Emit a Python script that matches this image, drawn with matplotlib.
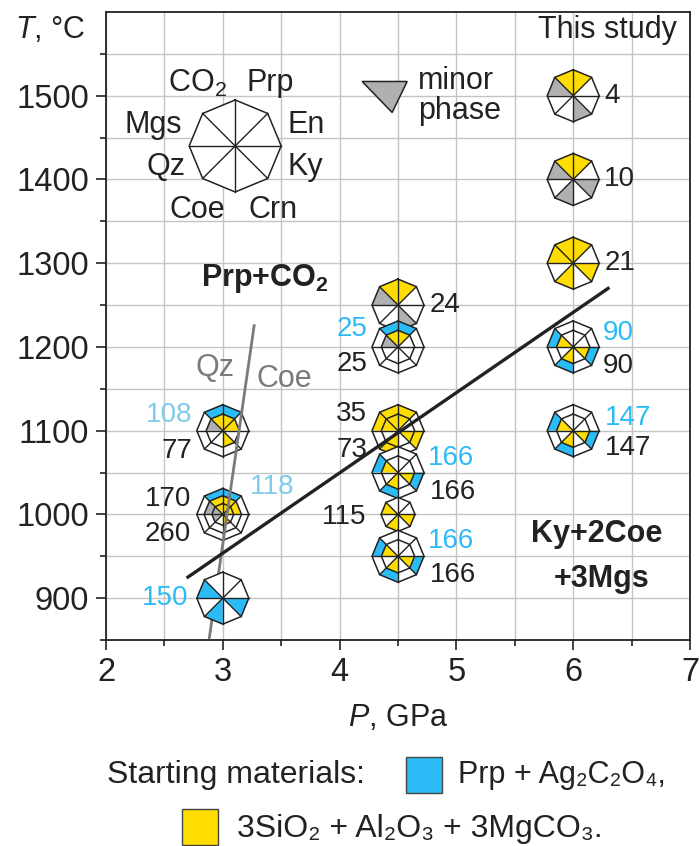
import numpy as np
import matplotlib
matplotlib.use("Agg")
import matplotlib.pyplot as plt
from matplotlib.patches import Polygon, Rectangle

plt.rcParams["font.family"] = ["Liberation Sans", "DejaVu Sans"]
plt.rcParams["mathtext.fontset"] = "custom"
plt.rcParams["mathtext.rm"] = "Liberation Sans"
plt.rcParams["mathtext.it"] = "Liberation Sans:italic"
plt.rcParams["mathtext.bf"] = "Liberation Sans:bold"

# ---------------- data ----------------
# phase sectors, clockwise starting from the top vertex of the octagon
phases = ["Prp", "En", "Ky", "Crn", "Coe", "Qz", "Mgs", "CO$_2$"]

# run conditions
run_P = [6.0, 6.0, 6.0, 4.5, 4.5, 4.5, 4.5, 4.5, 4.5, 6.0, 6.0, 3.0, 3.0, 3.0]
run_T = [1500, 1400, 1300, 1250, 1200, 1100, 1050, 1000, 950, 1200, 1100, 1100, 1000, 900]

# run durations (h) per ring, outer ring first
durations = [["4"], ["10"], ["21"], ["24"], ["25", "25"], ["35", "73"],
             ["166", "166"], ["115"], ["166", "166"], ["90", "90"],
             ["147", "147"], ["108", "77"], ["118", "170", "260"], ["150"]]

# starting material per ring: B = Prp + Ag2C2O4, Y = 3SiO2 + Al2O3 + 3MgCO3
materials = [["Y"], ["Y"], ["Y"], ["Y"], ["B", "Y"], ["Y", "Y"],
             ["B", "Y"], ["Y"], ["B", "Y"], ["B", "Y"],
             ["B", "Y"], ["B", "Y"], ["B", "Y", "Y"], ["B"]]

# phases observed per ring (order of `phases`): X = major, m = minor, . = absent
assemblages = [
    ["X..m..mX"],
    ["X.m.m.mX"],
    ["X.X.X.XX"],
    ["X..m..mX"],
    ["X......X", "X.....mX"],
    ["X.X.X.XX", "X.X.X.XX"],
    ["..X.X.X.", "..X.X.X."],
    ["..X.X.X."],
    ["..X.X.X.", "..X.X.X."],
    ["..X.X.X.", "..X.X.X."],
    ["..X.X.X.", "..X.X.X."],
    ["X......X", "XX.X..mX"],
    ["X......X", "XX....mX", "XX.X.mmX"],
    ["..X.X.X."],
]

# reaction boundaries (P in GPa, T in °C)
reaction_P = [2.69, 6.31]
reaction_T = [924, 1271]
qz_coe_P = [2.883, 3.27]
qz_coe_T = [851, 1227]

x_ticks = [2, 3, 4, 5, 6, 7]
y_ticks = [900, 1000, 1100, 1200, 1300, 1400, 1500]

# ---------------- style ----------------
W, H = 699, 846
FS = 22      # general text size
FS_TICK = 23.5
FS_LEG = 23
FS_RUN = 20  # run duration labels
BLUE = "#2bbcf7"
BLUE_LT = "#7fcbec"
YELLOW = "#ffdd00"
GREY = "#b0b0b0"
DARK = "#222222"
fill_colour = {"B": BLUE, "Y": YELLOW}

fig = plt.figure(figsize=(W / 100, H / 100), dpi=100)
ax = fig.add_axes([106 / W, 1 - 640 / H, (690 - 106) / W, (640 - 12) / H])
ax.set_xlim(2, 7)
ax.set_ylim(850, 1600)

ax.set_xticks(x_ticks)
ax.set_yticks(y_ticks)
ax.set_xticks(np.arange(2.5, 7, 1.0), minor=True)
ax.set_yticks(np.arange(850, 1600, 100), minor=True)
ax.tick_params(which="both", direction="out", labelsize=FS_TICK, color=DARK,
               labelcolor=DARK, width=1.2)
ax.tick_params(which="major", length=7, pad=5)
ax.tick_params(which="minor", length=4)
ax.grid(True, which="both", color="#c4c4c4", lw=1.0, zorder=0)
ax.set_axisbelow(True)
for s in ax.spines.values():
    s.set_color(DARK)
    s.set_linewidth(1.3)

ax.set_xlabel("$\\mathit{P}$, GPa", fontsize=FS, color=DARK, labelpad=11)

# pixel scale of the data axes
px_P = (690 - 106) / 5.0
px_T = (640 - 12) / 750.0

# octagon vertices, first at top, going clockwise
ang = np.deg2rad(90 - 45 * np.arange(9))
vx, vy = np.cos(ang), np.sin(ang)

ring_edges = {1: [1.0, 0.0], 2: [1.0, 0.64, 0.0], 3: [1.0, 0.72, 0.42, 0.0]}


def draw_glyph(P, T, rings, mats, r_px, z):
    rx, ry = r_px / px_P, r_px / px_T
    ax.add_patch(Polygon(np.c_[P + rx * vx[:8], T + ry * vy[:8]], closed=True,
                         fc="white", ec="none", zorder=z))
    edges = ring_edges[len(rings)]
    for k, (ring, mat) in enumerate(zip(rings, mats)):
        fo, fi = edges[k], edges[k + 1]
        for i, c in enumerate(ring):
            if c == ".":
                continue
            col = fill_colour[mat] if c == "X" else GREY
            xs = [P + fo * rx * vx[i], P + fo * rx * vx[i + 1],
                  P + fi * rx * vx[i + 1], P + fi * rx * vx[i]]
            ys = [T + fo * ry * vy[i], T + fo * ry * vy[i + 1],
                  T + fi * ry * vy[i + 1], T + fi * ry * vy[i]]
            ax.add_patch(Polygon(np.c_[xs, ys], closed=True, fc=col,
                                 ec="none", zorder=z))
    for f in edges[:-1]:
        ax.plot(P + f * rx * vx, T + f * ry * vy, color=DARK, lw=1.1,
                zorder=z, solid_joinstyle="miter")
    for i in range(8):
        ax.plot([P, P + rx * vx[i]], [T, T + ry * vy[i]], color=DARK,
                lw=1.0, zorder=z)


glyph_r = [26, 26, 26, 26, 26, 26, 26, 17, 26, 26, 26, 26, 26, 26]
glyph_z = [3, 3, 3, 3, 3.1, 3, 3.1, 3.2, 3.3, 3, 3, 3, 3, 6]

for P, T, rings, mats, r, z in zip(run_P, run_T, assemblages, materials,
                                    glyph_r, glyph_z):
    draw_glyph(P, T, rings, mats, r, z)

# duration labels: offsets in pixels (x right, y down) and alignment
label_pos = [
    [(31, 0, "left")], [(31, 0, "left")], [(31, 0, "left")], [(32, 0, "left")],
    [(-31, -18, "right"), (-31, 17, "right")],
    [(-31, -17, "right"), (-31, 19, "right")],
    [(30, -15, "left"), (32, 19, "left")],
    [(-32, 3, "right")],
    [(30, -15, "left"), (32, 19, "left")],
    [(30, -14, "left"), (30, 19, "left")],
    [(32, -13, "left"), (32, 17, "left")],
    [(-30, -16, "right"), (-30, 20, "right")],
    [(27, -27, "left"), (-32, -15, "right"), (-32, 20, "right")],
    [(-34, 0, "right")],
]
light_blue_runs = {11, 12}

for j, (P, T) in enumerate(zip(run_P, run_T)):
    for txt, mat, (dx, dy, ha) in zip(durations[j], materials[j], label_pos[j]):
        if mat == "B":
            col = BLUE_LT if j in light_blue_runs else BLUE
        else:
            col = DARK
        ax.annotate(txt, (P, T), xytext=(dx, -dy), textcoords="offset pixels",
                    ha=ha, va="center", fontsize=FS_RUN, color=col, zorder=8)

# reaction lines
ax.plot(qz_coe_P, qz_coe_T, color="#7a7a7a", lw=2.0, zorder=5,
        solid_capstyle="butt")
ax.plot(reaction_P, reaction_T, color=DARK, lw=2.4, zorder=7,
        solid_capstyle="butt")

# field labels
ax.text(3.36, 1282, "Prp+CO$_\\mathbf{2}$", fontsize=FS, fontweight="bold",
        color=DARK, ha="center", va="center", zorder=8)
ax.text(2.935, 1175, "Qz", fontsize=FS, color="#7a7a7a", ha="center",
        va="center", zorder=8)
ax.text(3.53, 1162, "Coe", fontsize=FS, color="#7a7a7a", ha="center",
        va="center", zorder=8)
ax.text(6.2, 976, "Ky+2Coe", fontsize=FS, fontweight="bold", color=DARK,
        ha="center", va="center", zorder=8)
ax.text(6.24, 923, "+3Mgs", fontsize=FS, fontweight="bold", color=DARK,
        ha="center", va="center", zorder=8)

# key octagon with phase names
kP, kT = 3.106, 1440
draw_glyph(kP, kT, ["........"], ["Y"], 46, 4)
key_pos = [(35, -63, "center"), (52, -21, "left"), (52, 21, "left"),
           (38, 64, "center"), (-38, 64, "center"), (-50, 21, "right"),
           (-53, -21, "right"), (-38, -63, "center")]
for name, (dx, dy, ha) in zip(phases, key_pos):
    ax.annotate(name, (kP, kT), xytext=(dx, -dy), textcoords="offset pixels",
                ha=ha, va="center", fontsize=FS, color=DARK, zorder=8)

# minor phase key
mP, mT = 4.45, 1480
tri = np.array([[-30, -31], [15, -31], [0, 0]], dtype=float)
ax.add_patch(Polygon(np.c_[mP + tri[:, 0] / px_P, mT - tri[:, 1] / px_T],
                     closed=True, fc=GREY, ec=DARK, lw=1.1, zorder=4))
ax.annotate("minor\nphase", (mP, mT), xytext=(26, 16), textcoords="offset pixels",
            ha="left", va="center", fontsize=FS, color=DARK, linespacing=1.0,
            zorder=8)

# header texts
fig.text(15 / W, 1 - 30 / H, "$\\mathit{T}$, °C", fontsize=FS, color=DARK,
         ha="left", va="center")
fig.text(677 / W, 1 - 30 / H, "This study", fontsize=FS, color=DARK,
         ha="right", va="center")

# starting material legend
fig.text(107 / W, 1 - 775 / H, "Starting materials:", fontsize=FS_LEG,
         color=DARK, ha="left", va="center")
fig.add_artist(Rectangle((406 / W, 1 - 793 / H), 36 / W, 36 / H,
                         transform=fig.transFigure, fc=BLUE, ec="#444444", lw=1))
fig.text(458 / W, 1 - 775 / H, "Prp + Ag₂C₂O₄,", fontsize=FS, color=DARK,
         ha="left", va="center")
fig.add_artist(Rectangle((182 / W, 1 - 845 / H), 36 / W, 36 / H,
                         transform=fig.transFigure, fc=YELLOW, ec="#444444", lw=1))
fig.text(237 / W, 1 - 829 / H, "3SiO₂ + Al₂O₃ + 3MgCO₃.", fontsize=FS_LEG,
         color=DARK, ha="left", va="center")

fig.savefig("out.png", dpi=100)
